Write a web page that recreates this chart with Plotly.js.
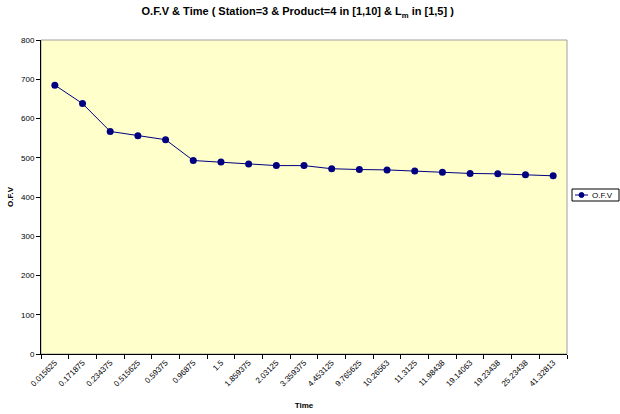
<!DOCTYPE html>
<html><head><meta charset="utf-8">
<script src="https://cdn.plot.ly/plotly-3.0.1.min.js"></script>
<style>html,body{margin:0;padding:0;background:#fff}#chart{width:620px;height:414px}</style>
</head><body><div id="chart"></div>
<script>
const timeLabels = ["0.015625","0.171875","0.234375","0.515625","0.59375","0.96875","1.5","1.859375","2.03125","3.359375","4.453125","9.765625","10.26563","11.3125","11.98438","19.14063","19.23438","25.23438","41.32813"];
const ofvValues = [685,638,567,556,546,493,489,484,480,480,472,470,469,466,463,460,459,457,454];
const yTicks = [0,100,200,300,400,500,600,700,800];
const seriesName = 'O.F.V';

const trace = {
  x: timeLabels, y: ofvValues, type: 'scatter', mode: 'lines+markers', name: seriesName,
  line: {color: '#000080', width: 1},
  marker: {color: '#000080', size: 7, symbol: 'circle'}
};
// legend box geometry in paper units (plot area: x 41..567, y 40..354 px)
const px = v => (v - 41) / 526;
const py = v => (354 - v) / 314;
const layout = {
  width: 620, height: 414,
  margin: {l: 41, r: 53, t: 40, b: 60, autoexpand: false},
  paper_bgcolor: '#ffffff', plot_bgcolor: '#FFFFCC',
  font: {family: 'Liberation Sans, Arial, sans-serif', size: 8, color: '#000'},
  title: {text: 'O.F.V & Time ( Station=3 & Product=4 in [1,10] & L<sub>m</sub> in [1,5] )',
    font: {size: 11, family: 'Liberation Sans, Arial, sans-serif', weight: 'bold', color: '#000'},
    x: 0.488, xref: 'paper', y: 0.972, yanchor: 'middle'},
  xaxis: {type: 'category', range: [-0.5, timeLabels.length - 0.5], tickson: 'boundaries',
    ticks: 'outside', ticklen: 4, tickcolor: '#000',
    showline: true, linecolor: '#000', linewidth: 1, mirror: false, showgrid: false, zeroline: false,
    tickangle: -45, tickfont: {size: 8},
    title: {text: 'Time', font: {size: 8, weight: 'bold'}, standoff: 14}},
  yaxis: {range: [0, 800], tickvals: yTicks, ticks: 'outside', ticklen: 4, tickcolor: '#000',
    showline: true, linecolor: '#000', linewidth: 1, showgrid: false, zeroline: false, tickfont: {size: 8},
    title: {text: 'O.F.V', font: {size: 8, weight: 'bold'}, standoff: 6}},
  shapes: [
    {type: 'rect', xref: 'paper', yref: 'paper', x0: 0, x1: 1, y0: 0, y1: 1,
      line: {color: '#a0a0a0', width: 1}, layer: 'below'},
    {type: 'rect', xref: 'paper', yref: 'paper', x0: px(572), x1: px(619), y0: py(201), y1: py(189),
      line: {color: '#000', width: 1}, fillcolor: '#fff'},
    {type: 'line', xref: 'paper', yref: 'paper', x0: px(575), x1: px(588), y0: py(195), y1: py(195),
      line: {color: '#000080', width: 1}},
    {type: 'circle', xref: 'paper', yref: 'paper', x0: px(579), x1: px(584), y0: py(197.5), y1: py(192.5),
      line: {color: '#000080', width: 1}, fillcolor: '#000080'}
  ],
  annotations: [{text: seriesName, xref: 'paper', yref: 'paper', x: px(590), y: py(195),
    xanchor: 'left', yanchor: 'middle', showarrow: false, font: {size: 8}}],
  showlegend: false
};
Plotly.newPlot('chart', [trace], layout, {displayModeBar: false, staticPlot: true});
</script></body></html>
